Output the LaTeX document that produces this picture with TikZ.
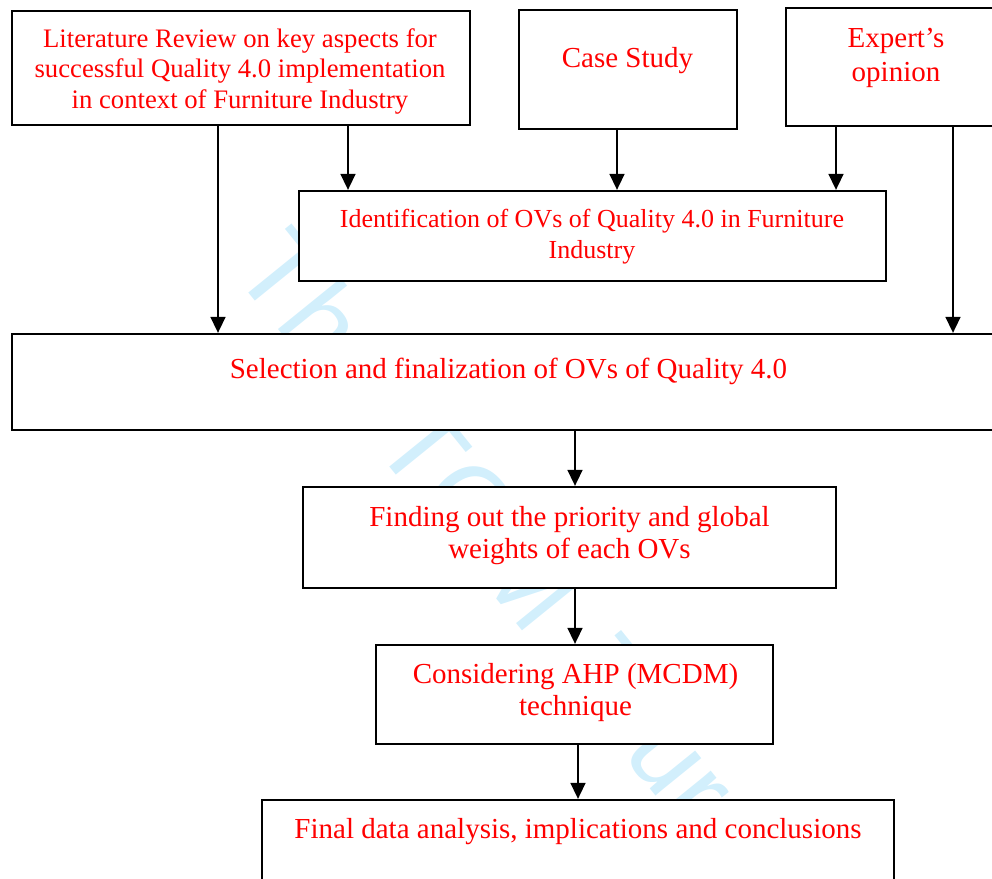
\documentclass[tikz,border=0pt]{standalone}
\usepackage{fontspec}
\setmainfont{Liberation Serif}
\newfontfamily\wmfont{Liberation Sans}
\usetikzlibrary{arrows.meta}
\definecolor{txtred}{RGB}{255,0,0}
\definecolor{wmblue}{RGB}{210,239,252}
\tikzset{
  box/.style={draw, line width=2.3pt, fill=white, inner sep=0pt},
  lbl/.style={text=txtred, align=center, inner sep=0pt, anchor=base},
  arr/.style={line width=1.6pt, -{Triangle[width=15pt,length=16pt]}},
}
\begin{document}
\begin{tikzpicture}[x=1pt,y=-1pt]
\useasboundingbox (0,0) rectangle (992,878);
\clip (0,0) rectangle (992,878);
% watermark
\node[text=wmblue, font=\wmfont\fontsize{112}{112}\selectfont, rotate=-51, anchor=base west, inner sep=0pt] (wm) at (230,270) {The TQM Journal};
% boxes
\node[box, minimum width=458pt, minimum height=114pt] (lit) at (241,68) {};
\node[box, minimum width=218pt, minimum height=119pt] (case) at (628,69.5) {};
\node[box, minimum width=214pt, minimum height=118pt] (exp) at (893,67) {};
\node[box, minimum width=587pt, minimum height=90pt] (ident) at (592.5,236) {};
\node[box, minimum width=988pt, minimum height=96pt] (sel) at (506,382) {};
\node[box, minimum width=533pt, minimum height=101pt] (find) at (569.5,537.5) {};
\node[box, minimum width=397pt, minimum height=99pt] (cons) at (574.5,694.5) {};
\node[box, minimum width=632pt, minimum height=100pt] (fin) at (578,850) {};
% texts (base = baseline of last line)
\node[lbl, font=\fontsize{26.7}{30.5}\selectfont] (litT) at (240,108) {Literature Review on key aspects for\\successful Quality 4.0 implementation\\in context of Furniture Industry};
\node[lbl, font=\fontsize{29}{34}\selectfont] (caseT) at (627.5,67) {Case Study};
\node[lbl, font=\fontsize{29}{34}\selectfont] (expT) at (896,81) {Expert’s\\opinion};
\node[lbl, font=\fontsize{26}{31}\selectfont] (identT) at (592,258) {Identification of OVs of Quality 4.0 in Furniture\\Industry};
\node[lbl, font=\fontsize{29}{34}\selectfont] (selT) at (508.5,378) {Selection and finalization of OVs of Quality 4.0};
\node[lbl, font=\fontsize{29}{32}\selectfont] (findT) at (569.5,558) {Finding out the priority and global\\weights of each OVs};
\node[lbl, font=\fontsize{29}{32}\selectfont] (consT) at (575.5,715) {Considering AHP (MCDM)\\technique};
\node[lbl, font=\fontsize{29}{34}\selectfont] (finT) at (578,838) {Final data analysis, implications and conclusions};
% arrows
\draw[arr] ([xshift=107pt]lit.south) -- ([xshift=107pt]lit.south |- ident.north);
\draw[arr] ([xshift=-23pt]lit.south) -- ([xshift=-23pt]lit.south |- sel.north);
\draw[arr] ([xshift=-11pt]case.south) -- ([xshift=-11pt]case.south |- ident.north);
\draw[arr] ([xshift=-57pt]exp.south) -- ([xshift=-57pt]exp.south |- ident.north);
\draw[arr] ([xshift=60pt]exp.south) -- ([xshift=60pt]exp.south |- sel.north);
\draw[arr] ([xshift=69pt]sel.south) -- ([xshift=69pt]sel.south |- find.north);
\draw[arr] ([xshift=5.5pt]find.south) -- ([xshift=5.5pt]find.south |- cons.north);
\draw[arr] ([xshift=3.5pt]cons.south) -- ([xshift=3.5pt]cons.south |- fin.north);
\end{tikzpicture}
\end{document}
